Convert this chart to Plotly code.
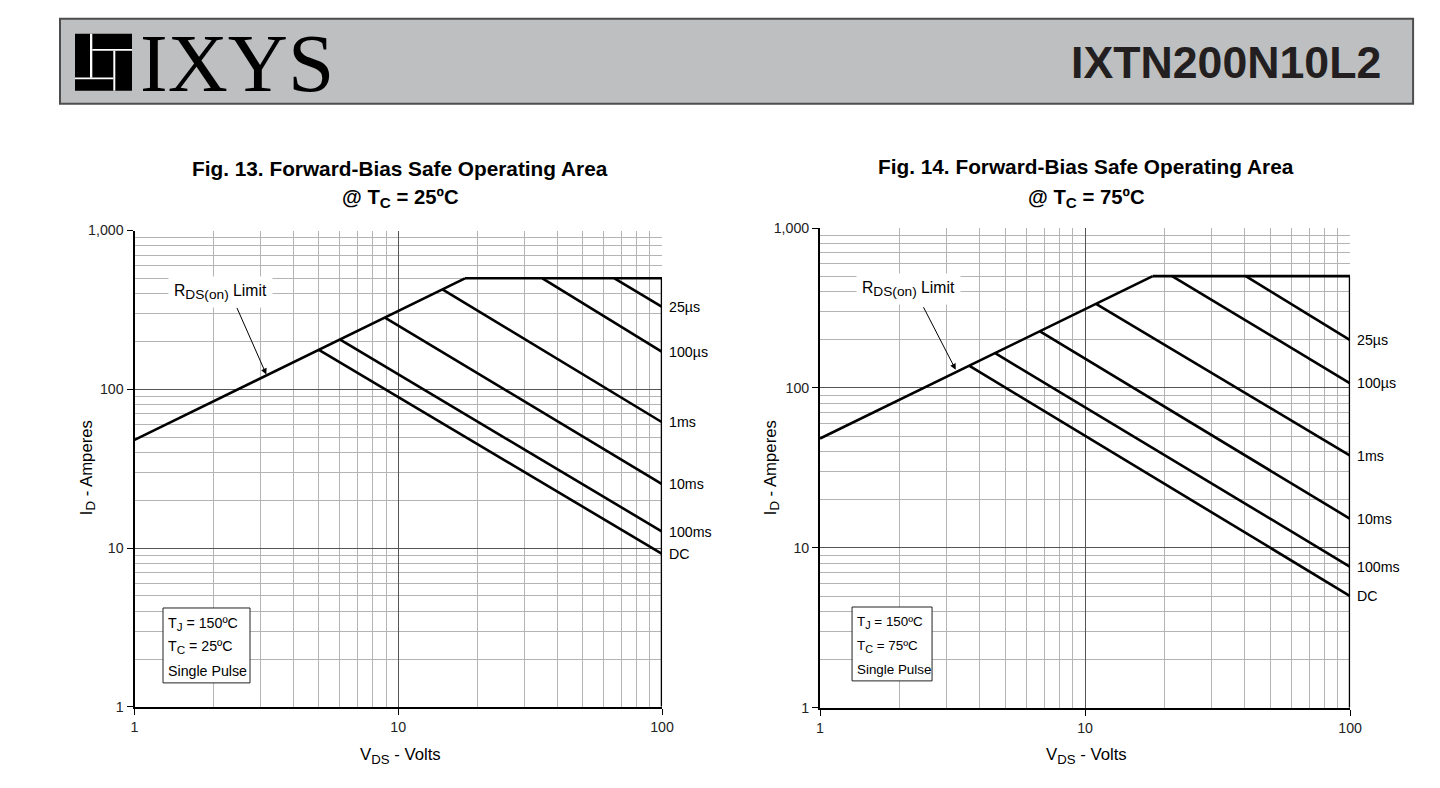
import math
import plotly.graph_objects as go

# ---------------- data ----------------
pulse_labels = ["25µs", "100µs", "1ms", "10ms", "100ms", "DC"]

# Fig. 13  (Tc = 25 ºC)
rds13_v = [1.0, 17.9]
rds13_i = [48.0, 500.0]
top13_v = [17.9, 100.0]
top13_i = [500.0, 500.0]
edge13_v = [100.0, 100.0]
edge13_i = [500.0, 1.0]
p13_v0 = [66.0, 35.2, 14.7, 8.9, 6.0, 5.0]
p13_i0 = [500.0, 500.0, 426.0, 283.0, 206.0, 177.0]
p13_i1 = [330.0, 172.0, 62.0, 25.3, 12.7, 9.2]
arrow13_tip = (3.16, 124.0)

# Fig. 14  (Tc = 75 ºC)
rds14_v = [1.0, 18.0]
rds14_i = [48.3, 500.0]
top14_v = [18.0, 100.0]
top14_i = [500.0, 500.0]
edge14_v = [100.0, 100.0]
edge14_i = [500.0, 1.0]
p14_v0 = [40.4, 21.3, 11.0, 6.76, 4.58, 3.65]
p14_i0 = [500.0, 500.0, 336.0, 226.0, 165.0, 138.0]
p14_i1 = [199.0, 107.0, 37.8, 15.2, 7.62, 5.0]
arrow14_tip = (3.25, 130.0)

x_tickvals = [1, 10, 100]
x_ticktext = ["1", "10", "100"]
y_tickvals = [1, 10, 100, 1000]
y_ticktext = ["1", "10", "100", "1,000"]

# ---------------- layout helpers ----------------
W, H = 1424, 772
# measured mapping of figure pixels to the photographed page
SX, OX = 0.9887, 12.0
SY, OY = 0.9806, 15.2
FS = 1.015  # font compensation for that mapping
FONT = "Liberation Sans, Arial, sans-serif"


def fx(p):
    return ((p - OX) / SX) / W


def fy(p):
    return 1 - ((p - OY) / SY) / H


def fz(s):
    return round(s * FS, 2)


def sub(t, size):
    return "<sub><span style='font-size:%spx'>%s</span></sub>" % (fz(size), t)


fig = go.Figure()


def add_chart(xa, ya, rv, ri, tv, ti, ev, ei, v0, i0, i1):
    line = dict(color="black", width=2.6)
    for xs, ys in ((rv, ri), (tv, ti), (ev, ei)):
        fig.add_trace(go.Scatter(x=xs, y=ys, xaxis=xa, yaxis=ya, mode="lines",
                                 line=line, showlegend=False, hoverinfo="skip"))
    for a, b, c in zip(v0, i0, i1):
        fig.add_trace(go.Scatter(x=[a, 100.0], y=[b, c], xaxis=xa, yaxis=ya, mode="lines",
                                 line=line, showlegend=False, hoverinfo="skip"))


add_chart("x", "y", rds13_v, rds13_i, top13_v, top13_i, edge13_v, edge13_i, p13_v0, p13_i0, p13_i1)
add_chart("x2", "y2", rds14_v, rds14_i, top14_v, top14_i, edge14_v, edge14_i, p14_v0, p14_i0, p14_i1)


def axis(rng, vals, text, domain, anchor):
    return dict(type="log", range=rng, domain=domain, anchor=anchor,
                tickvals=vals, ticktext=text, ticks="outside", ticklen=6,
                tickcolor="black", tickwidth=1, showline=True, linecolor="black", linewidth=2,
                showgrid=True, gridcolor="#555555", gridwidth=1, zeroline=False,
                minor=dict(dtick="D1", showgrid=True, gridcolor="#b4b4b4", gridwidth=1, ticks=""),
                tickfont=dict(family=FONT, size=fz(14), color="#222222"), fixedrange=True)


shapes = []
annotations = []

# header bar
shapes.append(dict(type="rect", xref="paper", yref="paper", x0=fx(60), x1=fx(1413), y0=fy(103), y1=fy(18),
                   fillcolor="#bebfc1", line=dict(color="#4d4d4d", width=2), layer="below"))
shapes.append(dict(type="rect", xref="paper", yref="paper", x0=fx(75), x1=fx(132), y0=fy(90), y1=fy(33),
                   fillcolor="black", line=dict(width=0)))
for x0, x1, y0, y1 in ((90, 92.3, 33, 77), (92.3, 132, 48.3, 50), (113.3, 115.3, 50, 90), (75, 113.3, 76.7, 78.5)):
    shapes.append(dict(type="rect", xref="paper", yref="paper", x0=fx(x0), x1=fx(x1), y0=fy(y1), y1=fy(y0),
                       fillcolor="white", line=dict(width=0)))

annotations.append(dict(xref="paper", yref="paper", x=fx(138), y=fy(62), xanchor="left", yanchor="middle",
                        text="IXYS", showarrow=False,
                        font=dict(family="Liberation Serif, Times New Roman, serif", size=fz(82), color="black")))
annotations.append(dict(xref="paper", yref="paper", x=fx(1226), y=fy(62), xanchor="center", yanchor="middle",
                        text="<b>IXTN200N10L2</b>", showarrow=False,
                        font=dict(family=FONT, size=fz(44), color="#231f20")))


def chart_text(fig_no, cx, t_y1, t_y2, tc, ylab_x, xlab_y, box, box_font, rds_cx, rds_cy,
               xa, ya, i1, tip, ax, ay):
    f = dict(family=FONT, color="black")
    annotations.append(dict(xref="paper", yref="paper", x=fx(cx), y=fy(t_y1), showarrow=False,
                            text="<b>Fig. %s. Forward-Bias Safe Operating Area</b>" % fig_no,
                            font=dict(size=fz(20.5), **f), xanchor="center", yanchor="middle"))
    annotations.append(dict(xref="paper", yref="paper", x=fx(cx), y=fy(t_y2), showarrow=False,
                            text="<b>@ T%s = %sºC</b>" % (sub("C", 15), tc),
                            font=dict(size=fz(20), **f), xanchor="center", yanchor="middle"))
    annotations.append(dict(xref="paper", yref="paper", x=fx(ylab_x), y=fy(468), showarrow=False,
                            text="I%s - Amperes" % sub("D", 13), textangle=-90,
                            font=dict(size=fz(16.5), **f), xanchor="center", yanchor="middle"))
    annotations.append(dict(xref="paper", yref="paper", x=fx(cx), y=fy(xlab_y), showarrow=False,
                            text="V%s - Volts" % sub("DS", 13),
                            font=dict(size=fz(16.5), **f), xanchor="center", yanchor="middle"))
    bx0, bx1, by0, by1 = box
    shapes.append(dict(type="rect", xref="paper", yref="paper", x0=fx(bx0), x1=fx(bx1), y0=fy(by1), y1=fy(by0),
                       fillcolor="white", line=dict(color="#222222", width=1)))
    lines = ["T%s = 150ºC" % sub("J", box_font - 2.5), "T%s = %sºC" % (sub("C", box_font - 2.5), tc),
             "Single Pulse"]
    for k, t in enumerate(lines):
        annotations.append(dict(xref="paper", yref="paper", x=fx(bx0 + 3), y=fy(by0 + 16 + 23.5 * k),
                                showarrow=False, text=t, xanchor="left", yanchor="middle",
                                font=dict(size=fz(box_font), **f)))
    annotations.append(dict(xref="paper", yref="paper", x=fx(rds_cx), y=fy(rds_cy), showarrow=False,
                            text="R%s Limit" % sub("DS(on)", 13.5), bgcolor="white", borderpad=5,
                            font=dict(size=fz(15.5), **f), xanchor="center", yanchor="middle"))
    annotations.append(dict(xref=xa, yref=ya, x=math.log10(tip[0]), y=math.log10(tip[1]), text="",
                            showarrow=True, arrowhead=2, arrowsize=1.2, arrowwidth=1, arrowcolor="black",
                            ax=ax, ay=ay))
    for lab, v in zip(pulse_labels, i1):
        annotations.append(dict(xref=xa, yref=ya, x=2, y=math.log10(v), text=lab, showarrow=False,
                                xanchor="left", yanchor="middle", xshift=5, yshift=0,
                                font=dict(size=fz(14), **f)))


chart_text("13", 400, 168, 198, "25", 88, 756, (163, 250, 608, 683), 14, 220, 292,
           "x", "y", p13_i1, arrow13_tip, -30, -68)
chart_text("14", 1086, 166, 198, "75", 772, 756, (852, 932, 607, 681), 13.2, 908, 289,
           "x2", "y2", p14_i1, arrow14_tip, -33, -64)

fig.update_layout(
    width=W, height=H, autosize=False,
    margin=dict(l=0, r=0, t=0, b=0),
    paper_bgcolor="white", plot_bgcolor="white",
    xaxis=axis([0, 2], x_tickvals, x_ticktext, [fx(134.5), fx(662)], "y"),
    yaxis=axis([0, 3], y_tickvals, y_ticktext, [fy(707), fy(230)], "x"),
    xaxis2=axis([0, 2], x_tickvals, x_ticktext, [fx(820), fx(1350)], "y2"),
    yaxis2=axis([0, 3], y_tickvals, y_ticktext, [fy(708), fy(227.5)], "x2"),
    shapes=shapes, annotations=annotations,
    font=dict(family=FONT),
)

fig.write_html("out.html", config={"displayModeBar": False})
